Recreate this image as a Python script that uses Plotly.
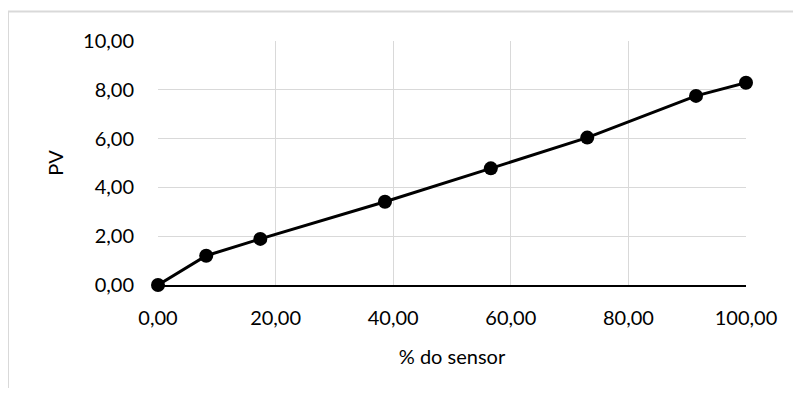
import plotly.graph_objects as go

sensor_pct = [0.0, 8.2, 17.4, 38.6, 56.6, 73.0, 91.5, 100.0]
pv = [0.0, 1.20, 1.89, 3.41, 4.78, 6.04, 7.75, 8.29]

x_ticks = [0, 20, 40, 60, 80, 100]
y_ticks = [0, 2, 4, 6, 8, 10]

FONT = "Lato"
GRID = "#d9d9d9"

fig = go.Figure()
fig.add_trace(go.Scatter(
    x=sensor_pct, y=pv, mode="lines+markers",
    line=dict(color="black", width=3),
    marker=dict(color="black", size=14),
    cliponaxis=False, showlegend=False,
))

# page has an 8px body margin; figure geometry is set relative to it
OFF = 8
W, H = 785, 380
L, T = 158 - OFF, 41 - OFF
R = W - (746 - OFF)
B = H - (285 - OFF)
pw = W - L - R
ph = H - T - B

# outer chart border (extends beyond the visible window on right and bottom)
fig.add_shape(type="rect", xref="paper", yref="paper",
              x0=(8 - OFF - L) / pw, x1=(W + 20 - L) / pw,
              y0=-(B + 30) / ph, y1=(ph + T - (11.5 - OFF)) / ph,
              line=dict(color=GRID, width=2), fillcolor="rgba(0,0,0,0)", layer="below")

fig.update_layout(
    width=W, height=H,
    margin=dict(l=L, r=R, t=T, b=B, autoexpand=False),
    paper_bgcolor="white", plot_bgcolor="white",
    separators=", ",
    font=dict(family=FONT, size=20, color="black"),
    xaxis=dict(
        range=[0, 100], tickvals=x_ticks, tickformat=".2f",
        showgrid=True, gridcolor=GRID, gridwidth=1.3,
        zeroline=False, showline=True, linecolor="black", linewidth=1.5,
        ticks="", ticklabelstandoff=14,
        title=dict(text="% do sensor", standoff=22, font=dict(size=20)),
        automargin=False,
    ),
    yaxis=dict(
        range=[0, 10], tickvals=y_ticks, tickformat=".2f",
        showgrid=True, gridcolor=GRID, gridwidth=1.3,
        zeroline=False, showline=False,
        ticks="", ticklabelstandoff=23,
        title=dict(text="PV", standoff=14, font=dict(size=20)),
        automargin=False,
    ),
)

fig.write_html("out.html")
